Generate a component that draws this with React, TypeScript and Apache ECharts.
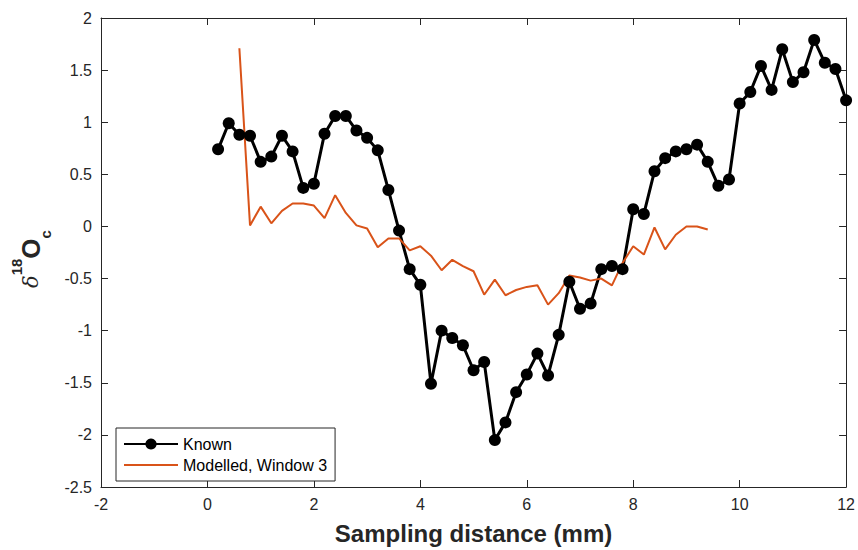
import React, { useEffect, useRef } from "react";
import * as echarts from "echarts";

const knownX = [
  0.2, 0.4, 0.6, 0.8, 1.0, 1.2, 1.4, 1.6, 1.8, 2.0,
  2.2, 2.4, 2.6, 2.8, 3.0, 3.2, 3.4, 3.6, 3.8, 4.0,
  4.2, 4.4, 4.6, 4.8, 5.0, 5.2, 5.4, 5.6, 5.8, 6.0,
  6.2, 6.4, 6.6, 6.8, 7.0, 7.2, 7.4, 7.6, 7.8, 8.0,
  8.2, 8.4, 8.6, 8.8, 9.0, 9.2, 9.4, 9.6, 9.8, 10.0,
  10.2, 10.4, 10.6, 10.8, 11.0, 11.2, 11.4, 11.6, 11.8, 12.0,
];
const knownY = [
  0.74, 0.99, 0.88, 0.87, 0.62, 0.67, 0.87, 0.72, 0.37, 0.41,
  0.89, 1.06, 1.06, 0.92, 0.85, 0.73, 0.35, -0.04, -0.41, -0.56,
  -1.51, -1.0, -1.07, -1.14, -1.38, -1.3, -2.05, -1.88, -1.59, -1.42,
  -1.22, -1.43, -1.04, -0.53, -0.79, -0.74, -0.41, -0.38, -0.41, 0.165,
  0.12, 0.53, 0.655, 0.72, 0.74, 0.785, 0.62, 0.39, 0.45, 1.18,
  1.29, 1.54, 1.31, 1.7, 1.385, 1.48, 1.79, 1.57, 1.51, 1.21,
];
const modelX = [
  0.6, 0.8, 1.0, 1.2, 1.4, 1.6, 1.8, 2.0, 2.2, 2.4,
  2.6, 2.8, 3.0, 3.2, 3.4, 3.6, 3.8, 4.0, 4.2, 4.4,
  4.6, 4.8, 5.0, 5.2, 5.4, 5.6, 5.8, 6.0, 6.2, 6.4,
  6.6, 6.8, 7.0, 7.2, 7.4, 7.6, 7.8, 8.0, 8.2, 8.4,
  8.6, 8.8, 9.0, 9.2, 9.4,
];
const modelY = [
  1.71, 0.01, 0.19, 0.03, 0.15, 0.22, 0.22, 0.2, 0.08, 0.3,
  0.13, 0.01, -0.02, -0.2, -0.115, -0.115, -0.23, -0.19, -0.28, -0.42,
  -0.32, -0.38, -0.43, -0.655, -0.51, -0.66, -0.61, -0.58, -0.565, -0.75,
  -0.64, -0.47, -0.49, -0.52, -0.5, -0.565, -0.35, -0.19, -0.27, -0.01,
  -0.22, -0.08, 0.0, 0.0, -0.03,
];

const seriesNames = ["Known", "Modelled, Window 3"];
const xTitle = "Sampling distance (mm)";

const AXIS_COLOR = "#262626";
const FONT = "'Liberation Sans', Arial, Helvetica, sans-serif";

export default function App() {
  const ref = useRef<HTMLDivElement>(null);

  useEffect(() => {
    if (!ref.current) return;
    const chart = echarts.init(ref.current, undefined, { renderer: "svg" });

    const axisCommon = {
      type: "value" as const,
      axisLine: { show: true, onZero: false, lineStyle: { color: AXIS_COLOR, width: 1 } },
      axisTick: { show: true, inside: true, length: 7, lineStyle: { color: AXIS_COLOR, width: 1 } },
      splitLine: { show: false },
    };

    const option = {
      animation: false,
      backgroundColor: "#ffffff",
      textStyle: { fontFamily: FONT },
      grid: { left: 101, right: 11, top: 18, bottom: 60, containLabel: false },
      xAxis: [
        {
          ...axisCommon,
          position: "bottom",
          min: -2,
          max: 12,
          interval: 2,
          axisLabel: { color: AXIS_COLOR, fontSize: 16, margin: 9, fontFamily: FONT },
          name: xTitle,
          nameLocation: "middle",
          nameGap: 34,
          nameTextStyle: { color: AXIS_COLOR, fontSize: 24, fontWeight: "bold", fontFamily: FONT },
        },
        {
          ...axisCommon,
          position: "top",
          min: -2,
          max: 12,
          interval: 2,
          axisLabel: { show: false },
        },
      ],
      yAxis: [
        {
          ...axisCommon,
          position: "left",
          min: -2.5,
          max: 2,
          interval: 0.5,
          axisLabel: { color: AXIS_COLOR, fontSize: 16, margin: 9, fontFamily: FONT },
        },
        {
          ...axisCommon,
          position: "right",
          min: -2.5,
          max: 2,
          interval: 0.5,
          axisLabel: { show: false },
        },
      ],
      legend: {
        data: [
          { name: seriesNames[0] },
          { name: seriesNames[1], itemStyle: { opacity: 0 } },
        ],
        orient: "vertical",
        left: 116,
        top: 428,
        padding: [8, 8, 8, 7],
        itemWidth: 54,
        itemHeight: 14,
        itemGap: 5,
        backgroundColor: "#ffffff",
        borderColor: AXIS_COLOR,
        borderWidth: 1,
        borderRadius: 0,
        textStyle: { color: "#000000", fontSize: 16, fontFamily: FONT },
      },
      graphic: [
        {
          type: "text",
          x: 31,
          y: 259,
          rotation: Math.PI / 2,
          style: {
            text: "{d|δ}{s|18}{o|O}{c|c}",
            align: "center",
            verticalAlign: "middle",
            fill: AXIS_COLOR,
            rich: {
              d: { fontSize: 21, fontStyle: "italic", fontFamily: "'DejaVu Serif', serif", fill: AXIS_COLOR, verticalAlign: "middle" },
              s: { fontSize: 15, fontWeight: "bold", fontFamily: FONT, fill: AXIS_COLOR, verticalAlign: "top" },
              o: { fontSize: 26, fontWeight: "bold", fontFamily: FONT, fill: AXIS_COLOR, lineHeight: 44, verticalAlign: "middle" },
              c: { fontSize: 15, fontWeight: "bold", fontFamily: FONT, fill: AXIS_COLOR, verticalAlign: "bottom" },
            },
          },
        },
      ],
      series: [
        {
          name: seriesNames[0],
          type: "line",
          xAxisIndex: 0,
          yAxisIndex: 0,
          data: knownX.map((x, i) => [x, knownY[i]]),
          symbol: "circle",
          symbolSize: 12,
          showSymbol: true,
          lineStyle: { color: "#000000", width: 3 },
          itemStyle: { color: "#000000" },
          emphasis: { disabled: true },
        },
        {
          name: seriesNames[1],
          type: "line",
          xAxisIndex: 0,
          yAxisIndex: 0,
          data: modelX.map((x, i) => [x, modelY[i]]),
          symbol: "none",
          showSymbol: false,
          lineStyle: { color: "#D95319", width: 2 },
          itemStyle: { color: "#D95319" },
          emphasis: { disabled: true },
        },
      ],
    };

    chart.setOption(option as any);
    return () => {
      chart.dispose();
    };
  }, []);

  return (
    <div
      ref={ref}
      style={{ position: "absolute", left: 0, top: 0, width: 858, height: 550 }}
    />
  );
}
